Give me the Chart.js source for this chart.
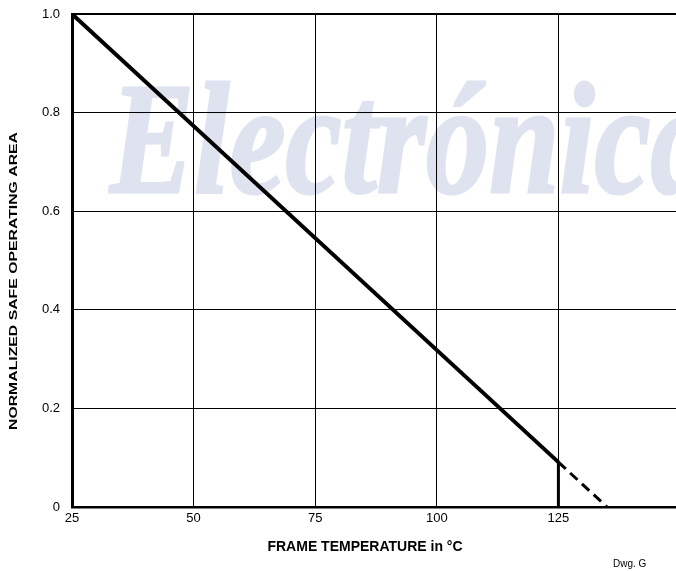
<!DOCTYPE html>
<html>
<head>
<meta charset="utf-8">
<script src="https://cdn.jsdelivr.net/npm/chart.js@4.4.1/dist/chart.umd.min.js"></script>
<style>
  html, body { margin: 0; padding: 0; background: #fff; overflow: hidden; }
  #wrap { width: 680px; height: 571px; }
</style>
</head>
<body>
<div id="wrap"><canvas id="soaChart" width="680" height="571"></canvas></div>
<script>
// datos
const solidTemp = [25, 125];
const solidSOA = [1.0, 0.091];
const dashTemp = [125, 135];
const dashSOA = [0.091, 0];
const limitTemp = [125, 125];
const limitSOA = [0.091, 0];

const xTickLabels = ['25', '50', '75', '100', '125'];
const yTickLabels = ['0', '0.2', '0.4', '0.6', '0.8', '1.0'];

function toPoints(xs, ys) {
    return xs.map((x, i) => ({ x: x, y: ys[i] }));
}

const tickFont = { family: 'Liberation Sans, Arial, sans-serif', size: 13 };

// marca de agua + titulos
const extrasPlugin = {
    id: 'extras',
    beforeDraw(chart) {
        const ctx = chart.ctx;
        ctx.save();
        ctx.fillStyle = '#dfe3ef';
        ctx.strokeStyle = '#dfe3ef';
        ctx.lineWidth = 3;
        ctx.font = 'italic bold 158px "Liberation Serif", "Times New Roman", serif';
        ctx.textBaseline = 'alphabetic';
        ctx.translate(110, 192);
        ctx.scale(0.8, 1);
        ctx.fillText('Electrónica', 0, 0);
        ctx.strokeText('Electrónica', 0, 0);
        ctx.restore();
    },
    afterDraw(chart) {
        const ctx = chart.ctx;
        ctx.save();
        ctx.fillStyle = '#000';
        ctx.textAlign = 'center';
        ctx.textBaseline = 'middle';
        ctx.font = 'bold 14px "Liberation Sans", Arial, sans-serif';
        ctx.fillText('FRAME TEMPERATURE in °C', 365, 547);

        ctx.font = 'bold 11px "Liberation Sans", Arial, sans-serif';
        const yTitle = 'NORMALIZED SAFE OPERATING AREA';
        const w = ctx.measureText(yTitle).width;
        ctx.translate(14, 281);
        ctx.rotate(-Math.PI / 2);
        ctx.scale(298 / w, 1);
        ctx.fillText(yTitle, 0, 0);
        ctx.restore();

        ctx.save();
        ctx.fillStyle = '#000';
        ctx.font = '10px "Liberation Sans", Arial, sans-serif';
        ctx.textBaseline = 'middle';
        ctx.fillText('Dwg. G', 613, 564);
        ctx.restore();
    }
};

const ctx = document.getElementById('soaChart').getContext('2d');
new Chart(ctx, {
    type: 'line',
    data: {
        datasets: [
            { data: toPoints(solidTemp, solidSOA), borderColor: '#000', borderWidth: 4, pointRadius: 0, tension: 0 },
            { data: toPoints(dashTemp, dashSOA), borderColor: '#000', borderWidth: 3, borderDash: [10, 6], pointRadius: 0, tension: 0 },
            { data: toPoints(limitTemp, limitSOA), borderColor: '#000', borderWidth: 3, pointRadius: 0, tension: 0 }
        ]
    },
    options: {
        responsive: false,
        animation: false,
        layout: { padding: { top: 14, left: 0, right: 0, bottom: 0 } },
        plugins: { legend: { display: false }, tooltip: { enabled: false } },
        scales: {
            x: {
                type: 'linear',
                min: 25,
                max: 150,
                afterFit: (scale) => {
                    scale.height = 64;
                    scale.paddingLeft = 0;
                    scale.paddingRight = 0;
                },
                ticks: {
                    stepSize: 25,
                    color: '#000',
                    font: tickFont,
                    padding: 4,
                    maxRotation: 0,
                    callback: (v) => xTickLabels.includes(String(v)) ? String(v) : ''
                },
                grid: { color: '#000', lineWidth: 1, drawTicks: false },
                border: { color: '#000', width: 2.5 }
            },
            y: {
                min: 0,
                max: 1,
                afterFit: (scale) => {
                    scale.width = 72;
                    scale.paddingTop = 0;
                    scale.paddingBottom = 0;
                },
                ticks: {
                    stepSize: 0.2,
                    color: '#000',
                    font: tickFont,
                    padding: 12,
                    callback: (v) => yTickLabels[Math.round(v * 5)]
                },
                grid: {
                    color: '#000',
                    drawTicks: false,
                    lineWidth: (c) => (c.tick && c.tick.value === 1) ? 2 : 1
                },
                border: { color: '#000', width: 3 }
            }
        }
    },
    plugins: [extrasPlugin]
});
</script>
</body>
</html>
